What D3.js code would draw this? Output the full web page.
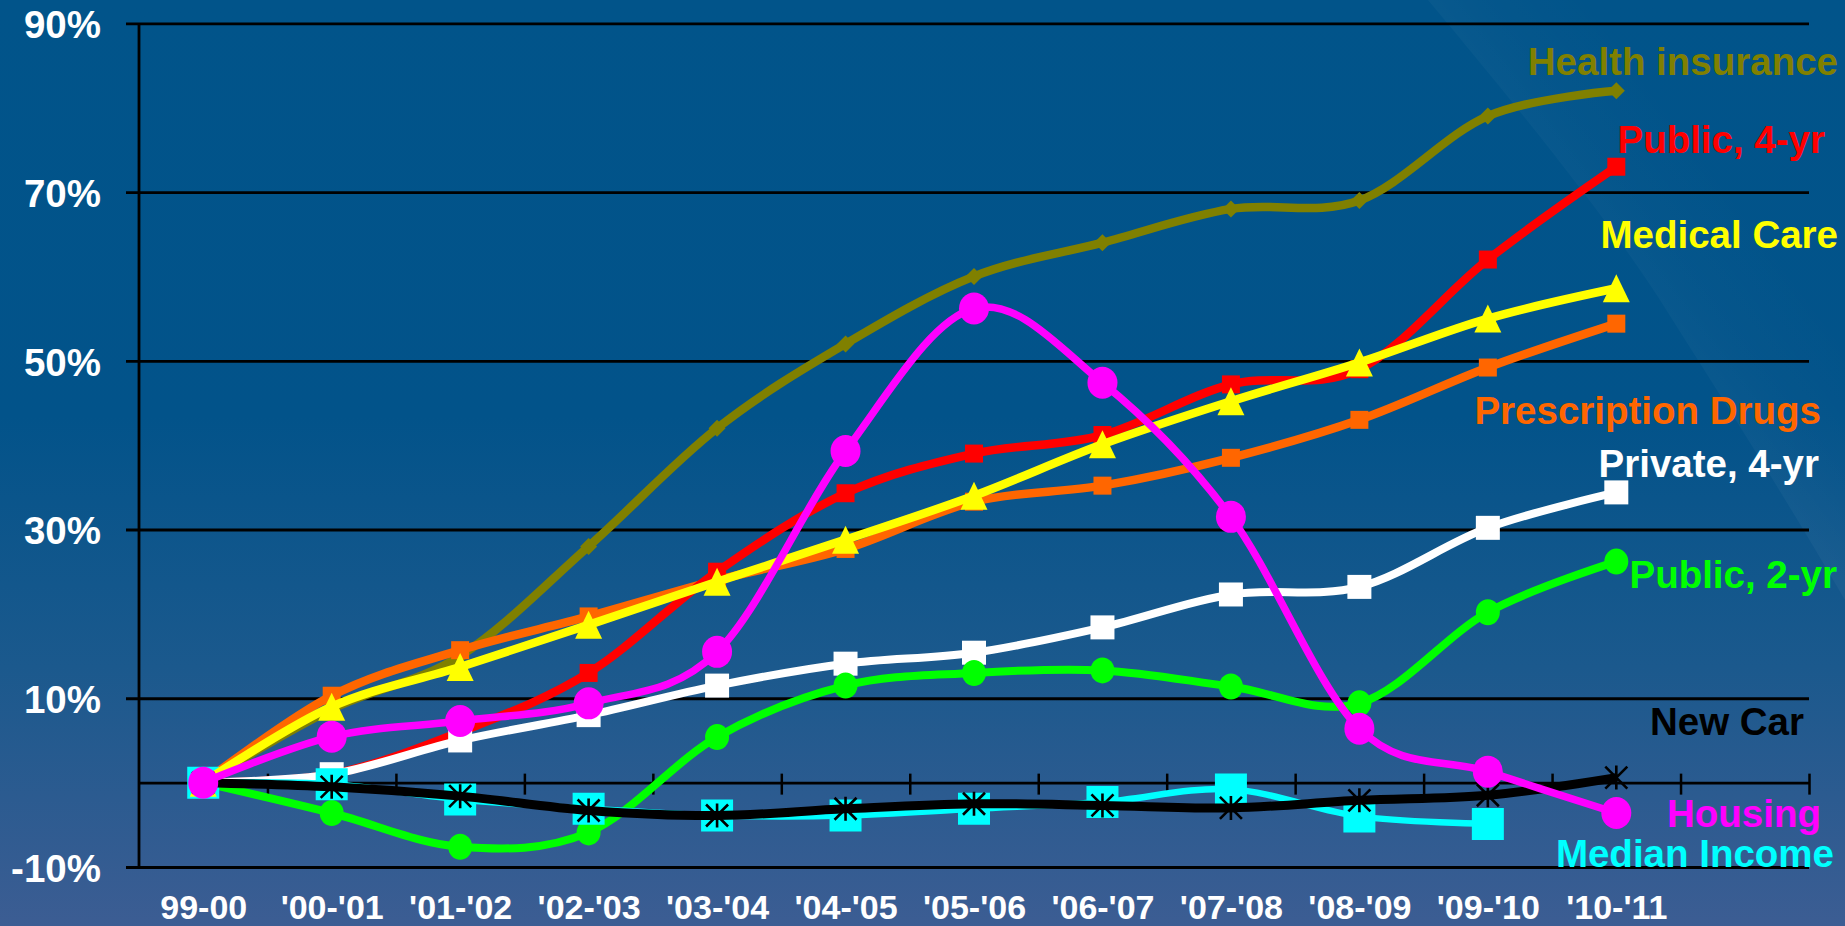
<!DOCTYPE html>
<html>
<head>
<meta charset="utf-8">
<script src="https://cdn.jsdelivr.net/npm/d3@7"></script>
<style>
html,body{margin:0;padding:0;background:#01548a;overflow:hidden}
svg{display:block}
</style>
</head>
<body>
<svg id="chart" width="1845" height="926"></svg>
<script>
// ---------- data ----------
const categories = ["99-00","'00-'01","'01-'02","'02-'03","'03-'04","'04-'05","'05-'06","'06-'07","'07-'08","'08-'09","'09-'10","'10-'11"];
const slotCount = 13; // the category axis has one empty slot after '10-'11
const yTicks = [90, 70, 50, 30, 10, -10];

const healthInsurance   = [0, 8.7, 15, 28, 42, 52, 60, 64, 68, 69, 79, 82];
const public4yr         = [0, 1, 6, 13, 25, 34.3, 39, 41.2, 47.2, 49, 62, 73];
const medicalCare       = [0, 9, 13.7, 18.7, 23.8, 28.8, 34, 40.1, 45.2, 49.8, 55, 58.6];
const prescriptionDrugs = [0, 10.3, 15.7, 19.7, 24, 27.7, 33.3, 35.2, 38.5, 43, 49.2, 54.4];
const private4yr        = [0, 1, 5, 8, 11.5, 14.1, 15.4, 18.4, 22.3, 23.2, 30.2, 34.4];
const public2yr         = [0, -3.6, -7.6, -5.9, 5.4, 11.5, 13, 13.3, 11.4, 9.4, 20.2, 26.2];
const housing           = [0, 5.45, 7.3, 9.4, 15.5, 39.3, 56.2, 47.4, 31.5, 6.4, 1.3, -3.6];
const newCar            = [0, -0.5, -1.6, -3.3, -3.9, -3.1, -2.5, -2.7, -3, -2.1, -1.5, 0.6];
const medianIncome      = [0, -0.2, -2, -3.1, -3.9, -3.9, -3.1, -2.3, -0.8, -4, -4.9];

const seriesNames = ["Health insurance","Public, 4-yr","Medical Care","Prescription Drugs","Private, 4-yr","Public, 2-yr","New Car","Housing","Median Income"];

// ---------- styles / layout ----------
const FONT = "'Liberation Sans', Arial, Helvetica, sans-serif";
const series = [
  {name: seriesNames[0], values: healthInsurance,   color: "#808000", marker: "diamond",  size: 17, width: 8.5, lx: 1838, ly: 75},
  {name: seriesNames[1], values: public4yr,         color: "#ff0000", marker: "square",   size: 18, width: 8.5, lx: 1825, ly: 153},
  {name: seriesNames[2], values: medicalCare,       color: "#ffff00", marker: "triangle", size: 27, width: 8.5, lx: 1838, ly: 248},
  {name: seriesNames[3], values: prescriptionDrugs, color: "#ff6600", marker: "square",   size: 18, width: 8.5, lx: 1821, ly: 424},
  {name: seriesNames[4], values: private4yr,        color: "#ffffff", marker: "square",   size: 24, width: 8,   lx: 1819, ly: 477},
  {name: seriesNames[5], values: public2yr,         color: "#00ff00", marker: "circle",   size: 24, width: 8,   lx: 1837, ly: 588},
  {name: seriesNames[6], values: newCar,            color: "#000000", marker: "asterisk", size: 22, width: 9,   lx: 1804, ly: 735},
  {name: seriesNames[7], values: housing,           color: "#ff00ff", marker: "circle",   size: 30, width: 7.5, lx: 1821, ly: 827},
  {name: seriesNames[8], values: medianIncome,      color: "#00ffff", marker: "square",   size: 32, width: 6.5, lx: 1834, ly: 867}
];
// z-order of drawing (bottom to top)
const drawOrder = ["Health insurance","Prescription Drugs","Public, 4-yr","Private, 4-yr","Public, 2-yr","Median Income","Medical Care","New Car","Housing"];

const svg = d3.select("#chart");
const W = 1845, H = 926;

// ---------- background ----------
const defs = svg.append("defs");
const bg = defs.append("linearGradient").attr("id","bg").attr("x1",0).attr("y1",0).attr("x2",0).attr("y2",1);
[[0,"#01548a"],[0.45,"#02538a"],[0.72,"#1b598d"],[1,"#3c5d93"]].forEach(s =>
  bg.append("stop").attr("offset", s[0]).attr("stop-color", s[1]));
svg.append("rect").attr("width", W).attr("height", H).attr("fill", "url(#bg)");

// subtle light swoosh in the top-right corner of the slide background
const sw = defs.append("linearGradient").attr("id","swoosh").attr("gradientUnits","userSpaceOnUse")
  .attr("x1",1520).attr("y1",150).attr("x2",1640).attr("y2",60);
[[0,0.035],[0.4,0.015],[1,0]].forEach(s =>
  sw.append("stop").attr("offset", s[0]).attr("stop-color", "#ffffff").attr("stop-opacity", s[1]));
svg.append("path")
  .attr("d","M1428,0 C1520,110 1605,215 1660,300 C1720,395 1775,480 1845,600 L1845,0 Z")
  .attr("fill","url(#swoosh)");

// ---------- scales ----------
const x = d3.scaleLinear().domain([-0.5, slotCount - 0.5]).range([139, 1809]);
const y = d3.scaleLinear().domain([-10, 90]).range([867, 23.3]);

// ---------- y axis with gridlines ----------
const gy = svg.append("g").attr("transform", `translate(${x(-0.5)},0)`)
  .call(d3.axisLeft(y).tickValues(yTicks).tickFormat(d => d + "%")
        .tickSize(-(x(slotCount - 0.5) - x(-0.5))).tickPadding(38));
gy.select(".domain").remove();
gy.selectAll(".tick line").attr("x1", -13).attr("stroke", "#000").attr("stroke-width", 2.8);
gy.selectAll(".tick text").attr("fill", "#fff").attr("font-size", 38.5)
  .attr("font-weight", "bold").attr("font-family", FONT).attr("dy", "0.37em");

svg.append("line").attr("x1", x(-0.5)).attr("x2", x(-0.5))
  .attr("y1", y(90)).attr("y2", y(-10)).attr("stroke", "#000").attr("stroke-width", 2.8);

// ---------- zero line (category axis) with cross ticks ----------
const gz = svg.append("g").attr("transform", `translate(0,${y(0)})`)
  .call(d3.axisBottom(x).tickValues(d3.range(0.5, slotCount, 1)).tickFormat("").tickSizeOuter(0));
gz.select(".domain").attr("stroke", "#000").attr("stroke-width", 2.8);
gz.selectAll(".tick line").attr("y1", -9).attr("y2", 12).attr("stroke", "#000").attr("stroke-width", 2.5);

// ---------- category labels (low position) ----------
const gx = svg.append("g").attr("transform", `translate(0,${y(-10)})`)
  .call(d3.axisBottom(x).tickValues(d3.range(categories.length)).tickFormat(i => categories[i]).tickSize(0));
gx.select(".domain").remove();
gx.selectAll(".tick text").attr("fill", "#fff").attr("font-size", 34).attr("font-weight", "bold")
  .attr("font-family", FONT).attr("y", 51.5).attr("dy", null);

// ---------- series ----------
const line = d3.line().x((d, i) => x(i)).y(d => y(d)).curve(d3.curveCardinal.tension(0));

function markerPath(type, s) {
  const h = s / 2;
  switch (type) {
    case "square":   return `M${-h},${-h}H${h}V${h}H${-h}Z`;
    case "diamond":  return `M0,${-h}L${h},0L0,${h}L${-h},0Z`;
    case "triangle": return `M0,${-h - 0.5}L${h},${h + 0.5}L${-h},${h + 0.5}Z`;
    case "asterisk": return `M0,${-h - 1}V${h + 1}M${-h},${-h}L${h},${h}M${h},${-h}L${-h},${h}`;
  }
}

const plot = svg.append("g");
drawOrder.forEach(nm => {
  const s = series.find(d => d.name === nm);
  const g = plot.append("g");
  g.append("path").datum(s.values).attr("d", line).attr("fill", "none")
    .attr("stroke", s.color).attr("stroke-width", s.width)
    .attr("stroke-linejoin", "round").attr("stroke-linecap", "butt");
  const m = g.selectAll(".m").data(s.values).enter();
  if (s.marker === "circle") {
    m.append("ellipse").attr("cx", (d, i) => x(i)).attr("cy", d => y(d))
      .attr("rx", s.size / 2).attr("ry", s.size / 2 + 1).attr("fill", s.color);
  } else if (s.marker === "asterisk") {
    m.append("path").attr("transform", (d, i) => `translate(${x(i)},${y(d)})`)
      .attr("d", markerPath("asterisk", s.size)).attr("fill", "none")
      .attr("stroke", s.color).attr("stroke-width", 2.6);
  } else {
    m.append("path").attr("transform", (d, i) => `translate(${x(i)},${y(d)})`)
      .attr("d", markerPath(s.marker, s.size)).attr("fill", s.color);
  }
});

// ---------- series labels ----------
svg.append("g").selectAll("text").data(series).enter().append("text")
  .attr("x", d => d.lx).attr("y", d => d.ly).attr("text-anchor", "end")
  .attr("fill", d => d.color).attr("font-size", 38.5).attr("font-weight", "bold")
  .attr("font-family", FONT).text(d => d.name);
</script>
</body>
</html>
